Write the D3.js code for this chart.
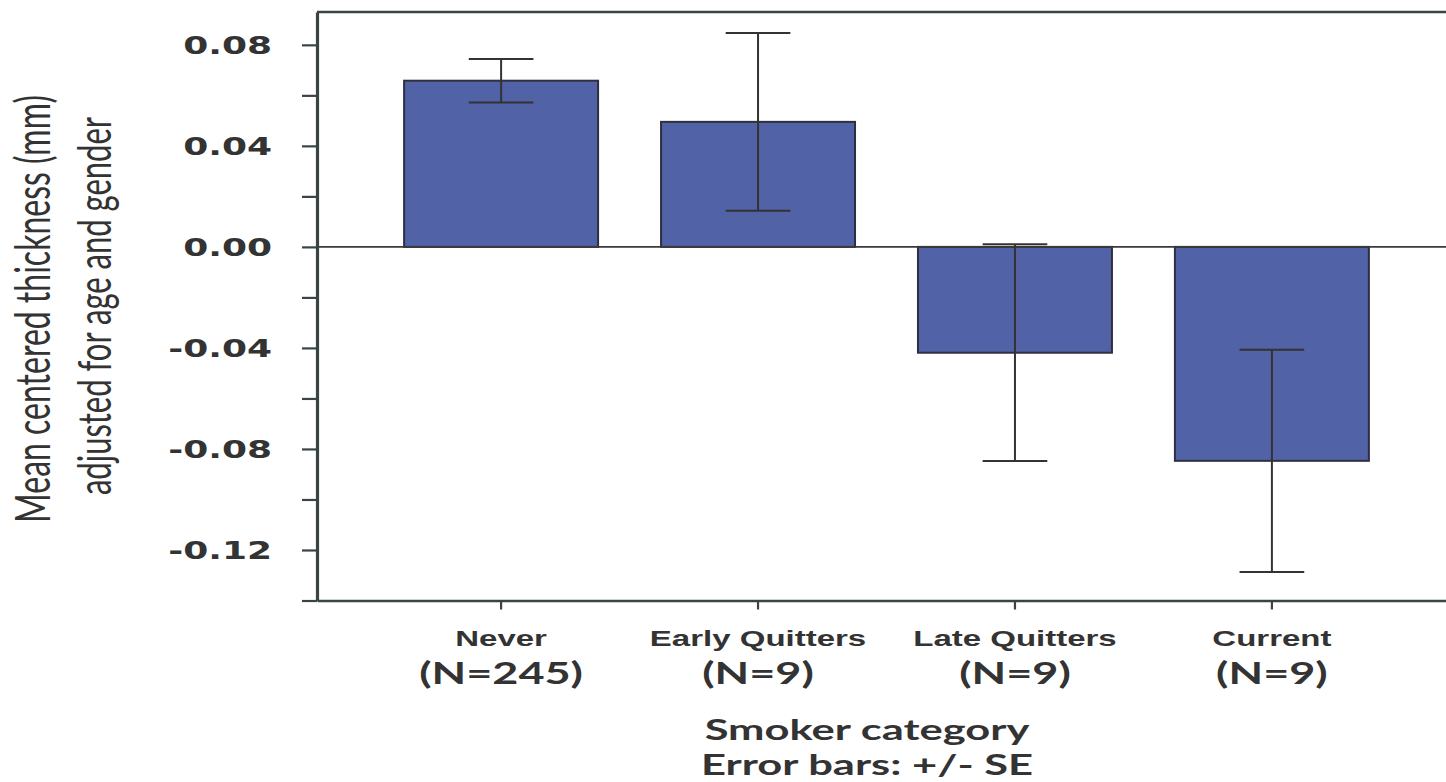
<!DOCTYPE html>
<html>
<head>
<meta charset="utf-8">
<script src="https://cdn.jsdelivr.net/npm/d3@7"></script>
<style>
  html, body { margin: 0; padding: 0; background: #fff; }
  svg { display: block; }
</style>
</head>
<body>
<script>
// Smoker categories and their group sizes
const categories = ["Never", "Early Quitters", "Late Quitters", "Current"];
const groupSizes = ["(N=245)", "(N=9)", "(N=9)", "(N=9)"];
// Mean centered thickness (mm), adjusted for age and gender
const means = [0.0658, 0.0495, -0.0419, -0.0847];
// Standard errors used for the +/- SE whiskers
const standardErrors = [0.0086, 0.0352, 0.0429, 0.0440];
// Y axis ticks (every 0.02) and the labelled subset
const yTicks = [-0.14, -0.12, -0.10, -0.08, -0.06, -0.04, -0.02, 0.00, 0.02, 0.04, 0.06, 0.08];
const yLabelled = [-0.12, -0.08, -0.04, 0.00, 0.04, 0.08];
const yDomain = [-0.14, 0.093];

(function draw() {
  const W = 1446, H = 782;
  const plotLeft = 317, plotRight = 1456, plotTop = 12, plotBottom = 600.5;
  const stretch = 1.5;            // horizontal stretch applied to all text
  const ink = "#333";
  const axisInk = "#3a4444";

  const svg = d3.select("body").append("svg").attr("width", W).attr("height", H);

  const x = d3.scaleBand().domain(categories).range([plotLeft, plotRight])
    .paddingInner(0.245).paddingOuter(0.339);
  const y = d3.scaleLinear().domain(yDomain).range([plotBottom, plotTop]);

  const rows = categories.map((c, i) => ({ c, n: groupSizes[i], m: means[i], se: standardErrors[i] }));

  // stretched text helper
  function label(parent, tx, ty, str, opts) {
    const g = parent.append("g")
      .attr("transform", `translate(${tx},${ty}) scale(${opts.sx || stretch},1)` + (opts.rotate ? ` rotate(${opts.rotate})` : ""));
    return g.append("text")
      .attr("x", 0).attr("y", 0)
      .attr("text-anchor", opts.anchor || "middle")
      .attr("font-family", opts.family)
      .attr("font-weight", opts.weight || "normal")
      .attr("font-size", opts.size)
      .attr("fill", ink)
      .text(str);
  }

  // top frame line
  svg.append("line")
    .attr("x1", plotLeft).attr("x2", plotRight).attr("y1", y(yDomain[1])).attr("y2", y(yDomain[1]))
    .attr("stroke", axisInk).attr("stroke-width", 2.5);

  // bars
  svg.append("g").selectAll("rect").data(rows).join("rect")
    .attr("x", d => x(d.c))
    .attr("width", x.bandwidth())
    .attr("y", d => y(Math.max(0, d.m)))
    .attr("height", d => Math.abs(y(d.m) - y(0)))
    .attr("fill", "#5162a6")
    .attr("stroke", "#2e3040")
    .attr("stroke-width", 2);

  // zero reference line
  svg.append("line")
    .attr("x1", plotLeft).attr("x2", plotRight).attr("y1", y(0)).attr("y2", y(0))
    .attr("stroke", "#3a3a3a").attr("stroke-width", 1.6);

  // error bars (+/- SE)
  const capW = x.bandwidth() / 3;
  const eb = svg.append("g").attr("stroke", ink).attr("stroke-width", 2);
  rows.forEach(d => {
    const cx = x(d.c) + x.bandwidth() / 2;
    eb.append("line").attr("x1", cx).attr("x2", cx).attr("y1", y(d.m + d.se)).attr("y2", y(d.m - d.se));
    eb.append("line").attr("x1", cx - capW / 2).attr("x2", cx + capW / 2).attr("y1", y(d.m + d.se)).attr("y2", y(d.m + d.se));
    eb.append("line").attr("x1", cx - capW / 2).attr("x2", cx + capW / 2).attr("y1", y(d.m - d.se)).attr("y2", y(d.m - d.se));
  });

  // y axis
  const yAxis = d3.axisLeft(y).tickValues(yTicks).tickSize(15).tickSizeOuter(0)
    .tickFormat(v => yLabelled.some(l => Math.abs(l - v) < 1e-9) ? v.toFixed(2) : "");
  const yg = svg.append("g").attr("transform", `translate(${plotLeft},0)`).call(yAxis);
  yg.select(".domain").attr("stroke", axisInk).attr("stroke-width", 3.2);
  yg.selectAll(".tick line").attr("stroke", axisInk).attr("stroke-width", 2.2);
  yg.selectAll(".tick text")
    .attr("x", 0).attr("dy", "0.36em")
    .attr("transform", `translate(-45,0) scale(${stretch},1)`)
    .attr("text-anchor", "end")
    .attr("font-family", "DejaVu Sans")
    .attr("font-weight", "bold")
    .attr("font-size", 24)
    .attr("fill", ink);

  // x axis
  const xAxis = d3.axisBottom(x).tickSize(9).tickSizeOuter(0).tickFormat("");
  const xg = svg.append("g").attr("transform", `translate(0,${plotBottom})`).call(xAxis);
  xg.select(".domain").attr("stroke", axisInk).attr("stroke-width", 2.6);
  xg.selectAll(".tick line").attr("stroke", axisInk).attr("stroke-width", 2.2);

  // category labels
  rows.forEach(d => {
    const cx = x(d.c) + x.bandwidth() / 2;
    label(svg, cx, 646, d.c, { family: "Liberation Sans", weight: "bold", size: 22 });
    label(svg, cx, 684, d.n, { family: "Lato", weight: "bold", size: 30 });
  });

  // x axis title
  label(svg, 867, 740, "Smoker category", { family: "Lato", weight: "bold", size: 29 });
  label(svg, 867, 775, "Error bars: +/- SE", { family: "Lato", weight: "bold", size: 29 });

  // y axis title (two lines, rotated)
  const yMid = 309;
  label(svg, 50, yMid, "Mean centered thickness (mm)", { family: "Lato", size: 32, rotate: -90 });
  label(svg, 111, yMid - 3, "adjusted for age and gender", { family: "Lato", size: 31, rotate: -90 });
})();
</script>
</body>
</html>
